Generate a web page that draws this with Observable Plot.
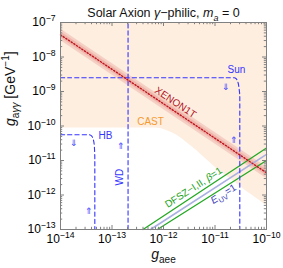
<!DOCTYPE html>
<html>
<head>
<meta charset="utf-8">
<script src="https://cdn.jsdelivr.net/npm/d3@7"></script>
<script src="https://cdn.jsdelivr.net/npm/@observablehq/plot@0.6"></script>
<style>
  html, body { margin: 0; padding: 0; background: #fff; }
  #chart svg { display: block; }
</style>
</head>
<body>
<div id="chart"></div>
<script>
// ---- Tick values ----
const xMajor = [1e-14, 1e-13, 1e-12, 1e-11, 1e-10];
const yMajor = [1e-13, 1e-12, 1e-11, 1e-10, 1e-9, 1e-8, 1e-7];
const xTickLabels = ["10<sup>−14</sup>", "10<sup>−13</sup>", "10<sup>−12</sup>", "10<sup>−11</sup>", "10<sup>−10</sup>"];
const yTickLabels = ["10<sup>−13</sup>", "10<sup>−12</sup>", "10<sup>−11</sup>", "10<sup>−10</sup>", "10<sup>−9</sup>", "10<sup>−8</sup>", "10<sup>−7</sup>"];

// ---- CAST excluded region (lower boundary, filled up to top) ----
const castX = [1e-14, 7.0e-13, 1.09e-12, 1.71e-12, 2.67e-12, 4.18e-12, 6.54e-12, 1.02e-11, 1.6e-11, 2.5e-11, 3.9e-11, 6.1e-11, 1e-10];
const castY = [8.75e-11, 8.75e-11, 7.65e-11, 5.68e-11, 3.56e-11, 2.08e-11, 1.14e-11, 6.26e-12, 3.67e-12, 2.3e-12, 1.35e-12, 8.5e-13, 5.0e-13];

// ---- XENON1T band ----
const xenonX = [1e-14, 1e-10];
const xenonMid = [4.4e-8, 4.4e-12];
const xenonOuterLo = [3.0e-8, 3.0e-12];
const xenonOuterHi = [6.5e-8, 6.5e-12];
const xenonInnerLo = [3.6e-8, 3.6e-12];
const xenonInnerHi = [5.4e-8, 5.4e-12];

// ---- Blue dashed bounds ----
const sunX = [1e-14, 2.39e-11, 2.61e-11, 2.8e-11, 2.93e-11, 3.03e-11, 3.03e-11];
const sunY = [2.5e-9, 2.5e-9, 2.3e-9, 1.82e-9, 1.22e-9, 7.2e-10, 1e-13];
const hbX = [1e-14, 3.66e-14, 4.09e-14, 4.38e-14, 4.57e-14, 4.64e-14, 4.64e-14];
const hbY = [5.56e-11, 5.56e-11, 4.97e-11, 3.8e-11, 2.23e-11, 1.02e-11, 1e-13];
const wdX = [2.05e-13, 2.05e-13];
const wdY = [1e-13, 1e-7];

// ---- DFSZ lines ----
const dfszUpperX = [4.0e-13, 1e-10];
const dfszUpperY = [1e-13, 2.3e-11];
const dfszLowerX = [7.6e-13, 1e-10];
const dfszLowerY = [1e-13, 1.0e-11];
const euvX = [5.6e-13, 1e-10];
const euvY = [1e-13, 1.5e-11];

// ---- Labels ----
const labelText = ["Sun", "⇓", "⇑", "HB", "⇓", "⇑", "⇑", "WD", "CAST", "XENON1T", "DFSZ−I,II, <i>β</i>=1", "<i>E</i><sub>UV</sub>=1"];
const labelX = [2.61e-11, 1.65e-11, 2.39e-11, 7.5e-14, 1.81e-14, 3.57e-14, 1.48e-13, 1.42e-13, 5.6e-13, 1.71e-12, 3.83e-12, 1.46e-11];
const labelY = [4.2e-9, 1.33e-9, 3.93e-11, 5.13e-11, 3.17e-11, 3.33e-13, 2.63e-11, 3.28e-12, 1.31e-10, 4.8e-10, 1.65e-12, 1.07e-12];
const labelColor = ["#3535ff", "#3535ff", "#3535ff", "#3535ff", "#3535ff", "#3535ff", "#3535ff", "#3535ff", "#f59a30", "#b3121c", "#22a322", "#3b3bb8"];
const labelRotate = [0, 0, 0, 0, 0, 0, 0, -90, 0, 33.7, -33, -32];
const labelSize = [10, 9, 9, 10, 9, 9, 9, 10, 10, 10, 10, 10];

const titleText = "Solar Axion <i>γ</i>−philic, <i>m</i><sub><i>a</i></sub> = 0";
const xLabelText = "<i>g</i><sub>aee</sub>";
const yLabelText = "<i>g</i><sub>a<i>γγ</i></sub> [GeV<sup>−1</sup>]";

// ---- Build tables ----
const zip = (xs, ys) => xs.map((x, i) => ({x, y: ys[i]}));
const cast = zip(castX, castY);
const xenon = xenonX.map((x, i) => ({x, mid: xenonMid[i], olo: xenonOuterLo[i], ohi: xenonOuterHi[i], ilo: xenonInnerLo[i], ihi: xenonInnerHi[i]}));
const labels = labelText.map((t, i) => ({t, x: labelX[i], y: labelY[i], c: labelColor[i], r: labelRotate[i], s: labelSize[i]}));

const minorOf = (majors) => {
  const out = [];
  for (let i = 0; i < majors.length - 1; i++) for (let k = 2; k <= 9; k++) out.push(majors[i] * k);
  return out;
};
const xMinor = minorOf(xMajor);
const yMinor = minorOf(yMajor);

const W = 283, H = 268, mL = 60, mR = 17, mT = 22, mB = 39;
const iw = W - mL - mR, ih = H - mT - mB;
const tickColor = "#808080";
const blue = "#3535ff";
const dash = "4.2,3";

const chart = Plot.plot({
  width: W, height: H,
  marginLeft: mL, marginRight: mR, marginTop: mT, marginBottom: mB,
  style: {fontFamily: "'Liberation Sans', Arial, Helvetica, sans-serif", background: "#fff", color: "#000"},
  x: {type: "log", domain: [1e-14, 1e-10]},
  y: {type: "log", domain: [1e-13, 1e-7]},
  marks: [
    Plot.areaY(cast, {x: "x", y1: "y", y2: 1e-7, fill: "#fdeee0", curve: "monotone-x"}),
    Plot.areaY(xenon, {x: "x", y1: "olo", y2: "ohi", fill: "#d9534f", fillOpacity: 0.2}),
    Plot.areaY(xenon, {x: "x", y1: "ilo", y2: "ihi", fill: "#d9534f", fillOpacity: 0.2}),
    Plot.line(zip(euvX, euvY), {x: "x", y: "y", stroke: "#aab0e2", strokeWidth: 1.6}),
    Plot.line(zip(dfszUpperX, dfszUpperY), {x: "x", y: "y", stroke: "#22a822", strokeWidth: 1.3}),
    Plot.line(zip(dfszLowerX, dfszLowerY), {x: "x", y: "y", stroke: "#22a822", strokeWidth: 1.3}),
    Plot.line(zip(sunX, sunY), {x: "x", y: "y", stroke: blue, strokeWidth: 1.1, strokeDasharray: dash, curve: "monotone-y"}),
    Plot.line(zip(hbX, hbY), {x: "x", y: "y", stroke: blue, strokeWidth: 1.1, strokeDasharray: dash, curve: "monotone-y"}),
    Plot.line(zip(wdX, wdY), {x: "x", y: "y", stroke: blue, strokeWidth: 1.1, strokeDasharray: dash}),
    Plot.line(xenon, {x: "x", y: "mid", stroke: "#c0141e", strokeWidth: 1.4, strokeDasharray: "1.3,1.9"}),
    // frame and inward ticks on all sides
    Plot.frame({stroke: tickColor, strokeWidth: 1}),
    Plot.ruleX(xMajor, {stroke: tickColor, insetTop: ih - 4}),
    Plot.ruleX(xMajor, {stroke: tickColor, insetBottom: ih - 4}),
    Plot.ruleX(xMinor, {stroke: tickColor, insetTop: ih - 2.2}),
    Plot.ruleX(xMinor, {stroke: tickColor, insetBottom: ih - 2.2}),
    Plot.ruleY(yMajor, {stroke: tickColor, insetRight: iw - 4}),
    Plot.ruleY(yMajor, {stroke: tickColor, insetLeft: iw - 4}),
    Plot.ruleY(yMinor, {stroke: tickColor, insetRight: iw - 2.2}),
    Plot.ruleY(yMinor, {stroke: tickColor, insetLeft: iw - 2.2}),
    Plot.axisX({ticks: xMajor, tickSize: 0, tickPadding: 5, fontSize: 12, label: null,
      tickFormat: (d) => xTickLabels[xMajor.indexOf(d)]}),
    Plot.axisY({ticks: yMajor, tickSize: 0, tickPadding: 5, fontSize: 12, label: null,
      tickFormat: (d) => yTickLabels[yMajor.indexOf(d)]}),
    // labels
    Plot.text(labels, {x: "x", y: "y", text: "t", fill: "c", rotate: "r", fontSize: "s"}),
    Plot.text([titleText], {frameAnchor: "top", dy: -14, fontSize: 12.5, fill: "#111"}),
    Plot.text([xLabelText], {frameAnchor: "bottom", dy: 29, fontSize: 14, fill: "#111"}),
    Plot.text([yLabelText], {frameAnchor: "left", dx: -50, rotate: -90, fontSize: 14, fill: "#111"})
  ]
});

// Turn simple <i>, <sub>, <sup> markup into real SVG tspans
function richify(svg) {
  svg.querySelectorAll("text").forEach((el) => {
    const targets = el.querySelectorAll("tspan").length ? Array.from(el.querySelectorAll("tspan")) : [el];
    targets.forEach((node) => {
      const raw = node.textContent;
      if (!/<\/?(i|sub|sup)>/.test(raw)) return;
      const fs = parseFloat(getComputedStyle(node).fontSize) || 10;
      while (node.firstChild) node.removeChild(node.firstChild);
      let italic = false, mode = 0, cur = 0;
      for (const p of raw.split(/(<\/?(?:i|sub|sup)>)/)) {
        if (!p) continue;
        const m = p.match(/^<(\/?)(i|sub|sup)>$/);
        if (m) {
          const open = !m[1];
          if (m[2] === "i") italic = open; else mode = open ? m[2] : 0;
          continue;
        }
        const target = mode === "sub" ? 0.3 * fs : mode === "sup" ? -0.42 * fs : 0;
        const ts = document.createElementNS("http://www.w3.org/2000/svg", "tspan");
        ts.textContent = p;
        if (target !== cur) { ts.setAttribute("dy", (target - cur).toFixed(2)); cur = target; }
        if (mode) ts.setAttribute("font-size", (0.72 * fs).toFixed(2));
        if (italic) ts.setAttribute("font-style", "italic");
        node.appendChild(ts);
      }
    });
  });
}

document.getElementById("chart").appendChild(chart);
richify(chart);
</script>
</body>
</html>
